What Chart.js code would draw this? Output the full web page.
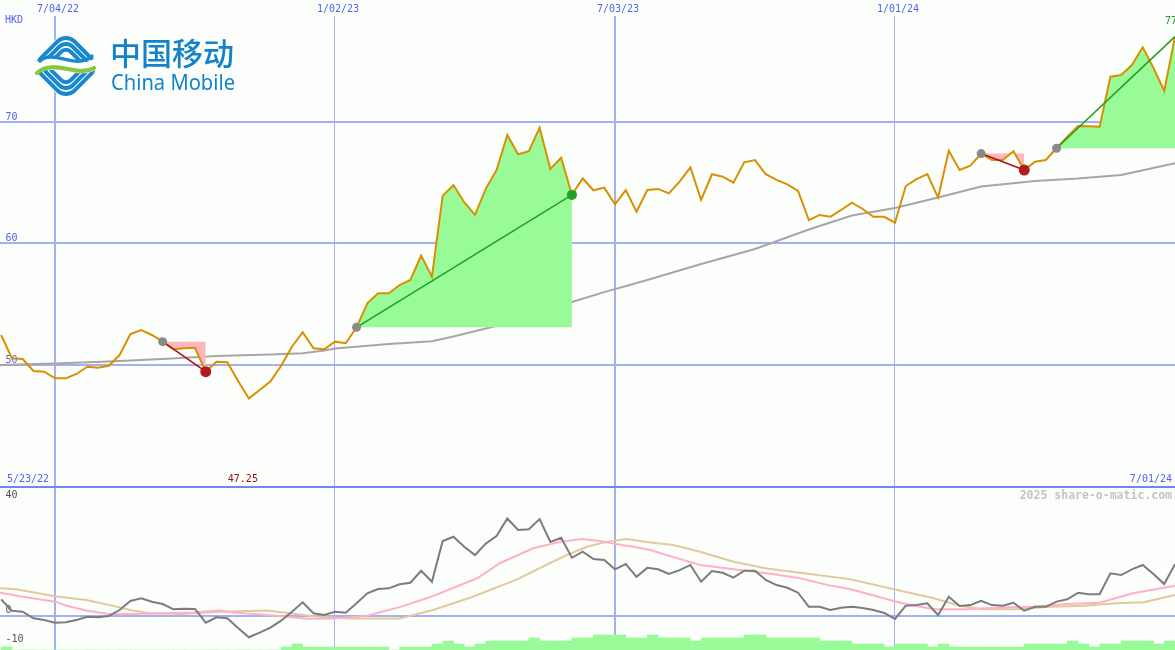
<!DOCTYPE html>
<html><head><meta charset="utf-8">
<script src="https://cdn.jsdelivr.net/npm/chart.js@4.4.1/dist/chart.umd.min.js"></script>
<style>
html,body{margin:0;padding:0;background:#fcfefc;}
#wrap{position:relative;width:1175px;height:650px;overflow:hidden;background:#fcfefc;}
#top{position:absolute;left:0;top:0;width:1175px;height:488px;}
#bot{position:absolute;left:0;top:488px;width:1175px;height:162px;}
</style></head><body>
<div id="wrap"><canvas id="top" width="1175" height="488"></canvas><canvas id="bot" width="1175" height="162"></canvas></div>
<script>
// ---------------- data (weekly, index 0 = first week) ----------------
const price = [52.47,50.55,50.49,49.51,49.45,48.9,48.9,49.26,49.86,49.78,
  49.94,50.82,52.55,52.88,52.47,51.92,51.29,51.37,51.42,49.45,
  50.27,50.22,48.68,47.25,47.94,48.63,49.94,51.5,52.7,51.37,
  51.3,51.92,51.79,53.1,55.08,55.9,55.9,56.58,57.0,59.0,
  57.27,63.93,64.81,63.4,62.35,64.5,66.05,68.93,67.34,67.6,
  69.53,66.13,67.06,64.0,65.35,64.38,64.6,63.23,64.4,62.62,
  64.4,64.49,64.13,65.09,66.27,63.58,65.7,65.5,65.0,66.68,
  66.87,65.7,65.23,64.87,64.32,61.93,62.35,62.2,62.76,63.36,
  62.84,62.2,62.2,61.71,64.73,65.3,65.72,63.77,67.64,66.05,
  66.4,67.4,66.87,66.87,67.6,66.05,66.73,66.87,67.84,68.79,
  69.67,69.65,69.61,73.73,73.87,74.69,76.15,74.44,72.55,77.02];
const movingAvg = [[-0.1,50.0],[5,50.12],[10,50.29],[15,50.49],[20,50.74],[25,50.86],[28,50.96],[30,51.19],
  [31,51.35],[36,51.72],[40,51.95],[42,52.35],[45,53.0],[49,53.87],[53,55.19],[56,56.0],[60,57.0],
  [65,58.31],[70,59.55],[75,61.15],[79,62.3],[83,62.92],[87,63.79],[91,64.69],[96,65.14],[100,65.35],
  [104,65.64],[109,66.6]];
const oscillator = [5.6,1.66,1.3,-0.97,-1.56,-2.49,-2.35,-1.56,-0.42,-0.62,
  -0.17,1.9,5.02,5.95,4.78,3.98,2.15,2.35,2.25,-2.49,
  -0.62,-0.97,-4.3,-7.54,-5.95,-4.22,-1.8,1.31,4.57,0.76,
  0.17,1.31,0.97,4.22,7.68,9.17,9.41,10.8,11.35,15.5,
  11.7,25.8,27.27,23.8,20.9,24.9,27.5,33.6,29.6,29.9,
  33.4,25.5,26.9,20.0,22.1,19.55,19.2,16.0,17.8,13.4,
  16.5,16.0,14.4,15.7,17.5,11.7,15.4,14.8,13.1,15.5,
  15.5,12.3,10.55,9.6,7.9,3.0,3.0,1.9,2.7,3.0,
  2.6,1.9,0.87,-1.2,3.4,3.6,4.2,0.17,6.5,3.3,
  3.6,5.1,3.6,3.4,4.4,1.66,3.0,3.0,4.8,5.6,
  7.9,7.4,7.4,14.6,14.0,16.0,17.5,14.4,10.9,17.8];
const signalFast = [[-0.1,7.9],[1.75,6.7],[5,4.8],[6.1,3.4],[7.9,1.7],[10.1,0.4],[12.2,0.5],[15.4,0.8],
  [17.8,1.0],[20.3,1.7],[21.5,1.0],[24.7,0.2],[26.5,-0.4],[28.4,-1.1],[30.8,-1.0],[33.9,-0.2],[37,2.9],
  [39.8,6.3],[44.2,12.9],[46.3,18.1],[49.4,23.3],[51.9,25.5],[53.9,26.5],[55.6,25.8],[57.2,24.7],
  [58.7,23.8],[60.3,22.7],[61.8,20.9],[64.9,17.5],[68,16.0],[71.1,14.6],[74.2,12.9],[76.7,10.6],
  [78.8,9.2],[83.5,4.4],[85,3.3],[86.6,2.2],[89.7,2.2],[92.8,2.8],[95.8,3.0],[98.9,4.0],[102,4.4],
  [105.1,7.7],[109,10.3]];
const signalSlow = [[-0.1,9.4],[1.4,9.1],[5,6.7],[7.9,5.4],[10.1,3.6],[12.2,1.7],[13.8,0.8],[16.9,0.5],
  [20.3,1.3],[24.7,1.7],[26.8,0.8],[29.3,-0.4],[32.4,-1.0],[37,-1.0],[40.1,1.9],[43.8,6.5],[47.9,12.5],
  [50.3,16.9],[52.5,20.9],[54.4,23.8],[56.2,25.5],[58.1,26.5],[60.3,25.3],[62.4,24.4],[64.9,22.1],
  [68,18.6],[71.1,16.3],[74.2,14.8],[78.8,12.6],[83.5,8.6],[86.6,6.0],[89.1,3.3],[91.2,2.2],[94.3,2.2],
  [97.4,3.0],[100.5,3.4],[103.6,4.2],[106.1,4.6],[109,7.1]];
const volume = [1, 0,0,0,0,0,0,0,0,0,0, 0,0,0,0,0,0,0,0,0,0, 0,0,0,0,0, 1,2, 1,1,1,1,1,1,1,1, 0, 1,1,1,
  2,3,2,1,2, 3,3,3,3, 4, 3,3,3, 4,4, 5,5,5, 4,4, 5, 4,4,4, 3, 4,4,4,4, 5,5, 4,4,4,4,4, 3,3,3,
  2,2,2, 1, 2,2,2, 1, 2, 1,1,1,1,1,1,1, 2,2,2,2, 3, 2, 1, 2,2, 3,3,3, 2, 3];
const xTickIdx = [5, 31, 57, 83];
const xTickLabels = ['7/04/22', '1/02/23', '7/03/23', '1/01/24'];
const yTicksTop = [50, 60, 70];
const yTicksBottom = [-10, 0, 40];
const tradeStart = [15, 33, 91, 98];
const tradeEnd = [19, 53, 95, 109];
const dateRange = ['5/23/22', '7/01/24'];
const lowLabel = '47.25';
const highLabel = '77';
const currencyLabel = 'HKD';
const brandCN = '中国移动';
const brandEN = 'China Mobile';
const watermark = '2025 share-o-matic.com';

// ---------------- styling ----------------
const BG = '#fcfefc';
const GRID = '#a4b0f4';
const LABEL_BLUE = '#5262f0';
const MONO = '"DejaVu Sans Mono", "Liberation Mono", monospace';
const GAIN_FILL = '#98fb98';
const LOSS_FILL = '#ffb6c1';

const pts = arr => arr.map((v, i) => ({x: i, y: v}));
const pairs = arr => arr.map(p => ({x: p[0], y: p[1]}));
const noPad = a => { a.paddingTop = 0; a.paddingBottom = 0; a.paddingLeft = 0; a.paddingRight = 0; };

function xScale(showLabels) {
  return {
    type: 'linear', min: -0.107, max: 109, position: showLabels ? 'top' : 'bottom', offset: false,
    afterBuildTicks: a => { a.ticks = xTickIdx.map(v => ({value: v})); },
    afterFit: a => { a.height = showLabels ? 16 : 0; noPad(a); },
    ticks: {display: showLabels, autoSkip: false, maxRotation: 0, padding: 1, labelOffset: 3,
      color: LABEL_BLUE, font: {family: MONO, size: 10},
      callback: (v, i) => xTickLabels[i]},
    grid: {color: GRID, lineWidth: c => (c.index % 2 === 0 ? 2 : 1), drawTicks: false, offset: false},
    border: {display: false}
  };
}

// ---------------- top chart ----------------
const datasetsTop = [];
datasetsTop.push({type: 'line', data: pts(price), borderColor: '#d99000', borderWidth: 2,
  pointRadius: 0, fill: false, order: 5});
datasetsTop.push({type: 'line', data: pairs(movingAvg), borderColor: '#a6a6a6', borderWidth: 2,
  pointRadius: 0, fill: false, order: 10});
tradeStart.forEach((s, k) => {
  const e = tradeEnd[k];
  datasetsTop.push({type: 'line', data: [{x: s, y: price[s]}, {x: e, y: price[s]}],
    borderWidth: 0, borderColor: 'rgba(0,0,0,0)', pointRadius: 0,
    fill: {target: 0, above: LOSS_FILL, below: GAIN_FILL}, order: 8});
});
tradeStart.forEach((s, k) => {
  const e = tradeEnd[k];
  const gain = price[e] > price[s];
  datasetsTop.push({type: 'line', data: [{x: s, y: price[s]}, {x: e, y: price[e]}],
    borderColor: gain ? '#22a022' : '#a81515', borderWidth: 1.6, pointRadius: 0, fill: false, order: 3});
});
datasetsTop.push({type: 'line', showLine: false, data: tradeStart.map(s => ({x: s, y: price[s]})),
  pointRadius: 4.5, pointBackgroundColor: '#8a8a8a', pointBorderWidth: 0, order: 1});
datasetsTop.push({type: 'line', showLine: false,
  data: tradeEnd.filter((e, k) => price[e] < price[tradeStart[k]]).map(e => ({x: e, y: price[e]})),
  pointRadius: 5.5, pointBackgroundColor: '#b01c1c', pointBorderWidth: 0, order: 1});
datasetsTop.push({type: 'line', showLine: false,
  data: tradeEnd.filter((e, k) => price[e] > price[tradeStart[k]] && e < price.length - 1).map(e => ({x: e, y: price[e]})),
  pointRadius: 5, pointBackgroundColor: '#22a022', pointBorderWidth: 0, order: 1});

function drawLogo(ctx) {
  const blue = '#1a88d0', green = '#8cc63f';
  ctx.save();
  ctx.translate(66, 66);
  const dia = (s, r) => {
    ctx.beginPath();
    ctx.moveTo(s / 2, -s / 2);
    ctx.arcTo(s, 0, 0, s, r);
    ctx.arcTo(0, s, -s, 0, r);
    ctx.arcTo(-s, 0, 0, -s, r);
    ctx.arcTo(0, -s, s, 0, r);
    ctx.closePath();
  };
  dia(37, 12); ctx.fillStyle = BG; ctx.fill();
  ctx.strokeStyle = blue; ctx.lineWidth = 4;
  [33, 26, 19].forEach(s => { dia(s, s * 0.36); ctx.stroke(); });
  ctx.lineCap = 'round';
  ctx.strokeStyle = BG; ctx.lineWidth = 11;
  ctx.beginPath(); ctx.moveTo(-36, 7); ctx.bezierCurveTo(-14, -16, 14, 16, 36, -7); ctx.stroke();
  ctx.strokeStyle = blue; ctx.lineWidth = 3.4;
  ctx.beginPath(); ctx.moveTo(-26, -5); ctx.bezierCurveTo(-12, -18, 8, 5, 26, -10); ctx.stroke();
  ctx.strokeStyle = green; ctx.lineWidth = 4.2;
  ctx.beginPath(); ctx.moveTo(-29, 7); ctx.bezierCurveTo(-12, -8, 10, 12, 28, 2); ctx.stroke();
  ctx.restore();
  ctx.save();
  ctx.fillStyle = '#1482c8';
  ctx.textBaseline = 'middle'; ctx.textAlign = 'left';
  ctx.font = '500 31px "Noto Sans CJK SC", "Noto Sans CJK JP", sans-serif';
  ctx.fillText(brandCN, 110, 53, 126);
  ctx.textBaseline = 'alphabetic';
  ctx.font = '22px "Noto Sans", "Open Sans", sans-serif';
  ctx.fillText(brandEN, 111, 90, 124);
  ctx.restore();
}

const topTextPlugin = {
  id: 'topText',
  afterDraw(chart) {
    const ctx = chart.ctx, xs = chart.scales.x;
    ctx.save();
    ctx.fillStyle = '#7585ee';
    ctx.fillRect(0, 486, 1175, 2);
    ctx.font = '10px ' + MONO;
    ctx.textBaseline = 'middle';
    ctx.fillStyle = LABEL_BLUE;
    ctx.textAlign = 'left';
    ctx.fillText(currencyLabel, 5, 20);
    ctx.fillText(dateRange[0], 7, 479);
    ctx.textAlign = 'right';
    ctx.fillText(dateRange[1], 1172, 479);
    const lowI = price.indexOf(Math.min(...price));
    ctx.fillStyle = '#a01010';
    ctx.textAlign = 'center';
    ctx.fillText(lowLabel, xs.getPixelForValue(lowI) - 6, 479);
    ctx.fillStyle = '#22a022';
    ctx.textAlign = 'right';
    ctx.fillText(highLabel, 1177, 21);
    ctx.restore();
    drawLogo(ctx);
  }
};

new Chart(document.getElementById('top'), {
  type: 'line',
  data: {datasets: datasetsTop},
  options: {
    responsive: false, animation: false, devicePixelRatio: 1, events: [],
    layout: {padding: 0, autoPadding: false},
    plugins: {legend: {display: false}, tooltip: {enabled: false}},
    scales: {
      x: xScale(true),
      y: {type: 'linear', min: 39.876, max: 78.724, position: 'left',
        afterBuildTicks: a => { a.ticks = yTicksTop.map(v => ({value: v})); },
        afterFit: a => { a.width = 0; noPad(a); },
        ticks: {mirror: true, padding: 5.5, labelOffset: -5, color: LABEL_BLUE,
          font: {family: MONO, size: 10}, callback: v => String(v)},
        grid: {color: GRID, lineWidth: 2, drawTicks: false},
        border: {display: false}}
    }
  },
  plugins: [topTextPlugin]
});

// ---------------- bottom chart ----------------
const botTextPlugin = {
  id: 'botText',
  afterDraw(chart) {
    const ctx = chart.ctx;
    ctx.save();
    ctx.font = 'bold 11.5px ' + MONO;
    ctx.fillStyle = '#c4c4c4';
    ctx.textAlign = 'right';
    ctx.textBaseline = 'middle';
    ctx.fillText(watermark, 1172, 8.5);
    ctx.restore();
  }
};

new Chart(document.getElementById('bot'), {
  type: 'line',
  data: {datasets: [
    {type: 'line', data: pts(oscillator), borderColor: '#7c7c7c', borderWidth: 2, pointRadius: 0, fill: false, order: 1},
    {type: 'line', data: pairs(signalFast), borderColor: '#ffb0c4', borderWidth: 2, pointRadius: 0, fill: false, order: 2},
    {type: 'line', data: pairs(signalSlow), borderColor: '#e2c99c', borderWidth: 2, pointRadius: 0, fill: false, order: 3},
    {type: 'bar', yAxisID: 'yv', data: volume.map((v, i) => ({x: i + 0.5, y: v})), backgroundColor: GAIN_FILL,
      borderWidth: 0, barPercentage: 1, categoryPercentage: 1, order: 10}
  ]},
  options: {
    responsive: false, animation: false, devicePixelRatio: 1, events: [],
    layout: {padding: 0, autoPadding: false},
    plugins: {legend: {display: false}, tooltip: {enabled: false}},
    scales: {
      x: xScale(false),
      y: {type: 'linear', min: -11.948, max: 44.156, position: 'left',
        afterBuildTicks: a => { a.ticks = yTicksBottom.map(v => ({value: v})); },
        afterFit: a => { a.width = 0; noPad(a); },
        ticks: {mirror: true, padding: 5.5, labelOffset: -5, color: '#505050',
          font: {family: MONO, size: 10}, callback: v => String(v)},
        grid: {color: c => (c.tick && c.tick.value === 0 ? GRID : 'rgba(0,0,0,0)'), lineWidth: 2, drawTicks: false},
        border: {display: false}},
      yv: {type: 'linear', min: 0, max: 54, display: false, afterFit: noPad}
    }
  },
  plugins: [botTextPlugin]
});
</script>
</body></html>
